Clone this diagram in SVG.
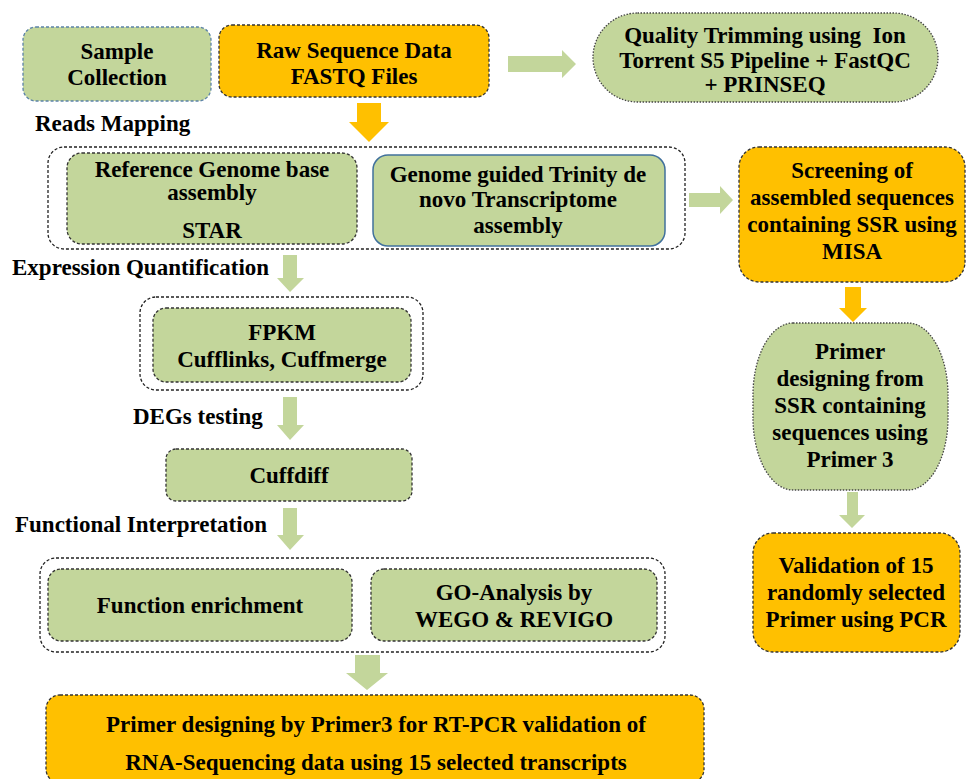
<svg xmlns="http://www.w3.org/2000/svg" width="968" height="779" viewBox="0 0 968 779">
<style>
text{font-family:"Liberation Serif","Times New Roman",serif;font-weight:bold;font-size:23px;fill:#000;text-anchor:middle}
.lbl{text-anchor:start}
.g{fill:#c3d69b}
.o{fill:#ffc000}
.dash{stroke:#333;stroke-width:1.3;stroke-dasharray:3 2}
.dot{stroke:#444;stroke-width:1.3;stroke-dasharray:1.5 1.5}
.cont{fill:#fff;stroke:#222;stroke-width:1.3;stroke-dasharray:3 2}
.ag{fill:#c3d69b}
.ao{fill:#ffc000}
</style>
<rect width="968" height="779" fill="#fff"/>

<g id="containers">
<rect class="cont" x="48" y="147" width="637" height="102" rx="16"/>
<rect class="cont" x="140" y="297" width="283" height="93" rx="16"/>
<rect class="cont" x="40" y="558" width="625" height="94" rx="16"/>
</g>

<g id="connectors">
<path class="ag" d="M508,56 H562 V50 L576,64 L562,78 V72 H508 Z"/>
<path class="ao" d="M357,103 H381 V122 H389 L369,142 L349,122 H357 Z"/>
<path class="ag" d="M689,193 H720 V186 L733,200 L720,214 V207 H689 Z"/>
<path class="ao" d="M845,287 H861 V308 H867 L853,322 L839,308 H845 Z"/>
<path class="ag" d="M847,492 H858 V515 H865 L852,528 L839,515 H847 Z"/>
<path class="ag" d="M283,255 H297 V278 H304 L290,292 L277,278 H283 Z"/>
<path class="ag" d="M283,397 H297 V425 H304 L290,440 L277,425 H283 Z"/>
<path class="ag" d="M283,508 H297 V535 H304 L290,550 L277,535 H283 Z"/>
<path class="ag" d="M355,655 H380 V673 H388 L367,690 L346,673 H355 Z"/>
</g>

<g id="sample-collection">
<rect class="g" x="23" y="27" width="188" height="74" rx="13" stroke="#5b82a8" stroke-width="1.3" stroke-dasharray="3 2"/>
<text x="117" y="59">Sample</text>
<text x="117" y="85">Collection</text>
</g>

<g id="raw-sequence">
<rect class="o dash" x="219" y="25" width="270" height="72" rx="13"/>
<text x="354" y="58">Raw Sequence Data</text>
<text x="354" y="84">FASTQ Files</text>
</g>

<g id="quality-trimming">
<rect class="g dot" x="593" y="13" width="345" height="89" rx="44.5"/>
<text x="765" y="43" xml:space="preserve">Quality Trimming using  Ion</text>
<text x="765" y="68">Torrent S5 Pipeline + FastQC</text>
<text x="765" y="92">+ PRINSEQ</text>
</g>

<g id="label-reads-mapping"><text class="lbl" x="35" y="131">Reads Mapping</text></g>

<g id="reference-genome">
<rect class="g dash" x="67" y="153" width="290" height="91" rx="15"/>
<text x="212" y="177">Reference Genome base</text>
<text x="212" y="200">assembly</text>
<text x="212" y="238">STAR</text>
</g>

<g id="trinity">
<rect class="g" x="373" y="155" width="292" height="91" rx="15" stroke="#41719c" stroke-width="1.5"/>
<text x="518" y="182">Genome guided Trinity de</text>
<text x="518" y="207">novo Transcriptome</text>
<text x="518" y="233">assembly</text>
</g>

<g id="screening">
<rect class="o dash" x="739" y="147" width="226" height="135" rx="20"/>
<text x="852" y="178">Screening of</text>
<text x="852" y="205">assembled sequences</text>
<text x="852" y="232">containing SSR using</text>
<text x="852" y="259">MISA</text>
</g>

<g id="label-expression"><text class="lbl" x="12" y="275">Expression Quantification</text></g>

<g id="fpkm">
<rect class="g dash" x="153" y="308" width="258" height="74" rx="13"/>
<text x="282" y="340">FPKM</text>
<text x="282" y="367">Cufflinks, Cuffmerge</text>
</g>

<g id="primer-ssr">
<rect class="g dot" x="753" y="323" width="195" height="167" rx="40" ry="72"/>
<text x="850" y="359">Primer</text>
<text x="850" y="386">designing from</text>
<text x="850" y="413">SSR containing</text>
<text x="850" y="440">sequences using</text>
<text x="850" y="467">Primer 3</text>
</g>

<g id="label-degs"><text class="lbl" x="133" y="424">DEGs testing</text></g>

<g id="cuffdiff">
<rect class="g dash" x="166" y="449" width="246" height="52" rx="10"/>
<text x="289" y="483">Cuffdiff</text>
</g>

<g id="label-functional"><text class="lbl" x="15" y="532">Functional Interpretation</text></g>

<g id="validation">
<rect class="o dash" x="753" y="533" width="207" height="119" rx="20"/>
<text x="856" y="573">Validation of 15</text>
<text x="856" y="600">randomly selected</text>
<text x="856" y="627">Primer using PCR</text>
</g>

<g id="function-enrichment">
<rect class="g dash" x="48" y="569" width="304" height="72" rx="13"/>
<text x="200" y="613">Function enrichment</text>
</g>

<g id="go-analysis">
<rect class="g dash" x="371" y="569" width="286" height="72" rx="13"/>
<text x="514" y="600">GO-Analysis by</text>
<text x="514" y="627">WEGO &amp; REVIGO</text>
</g>

<g id="primer-rtpcr">
<rect class="o dash" x="46" y="695" width="658" height="88" rx="14"/>
<text x="376" y="732">Primer designing by Primer3 for RT-PCR validation of</text>
<text x="376" y="770">RNA-Sequencing data using 15 selected transcripts</text>
</g>
</svg>
